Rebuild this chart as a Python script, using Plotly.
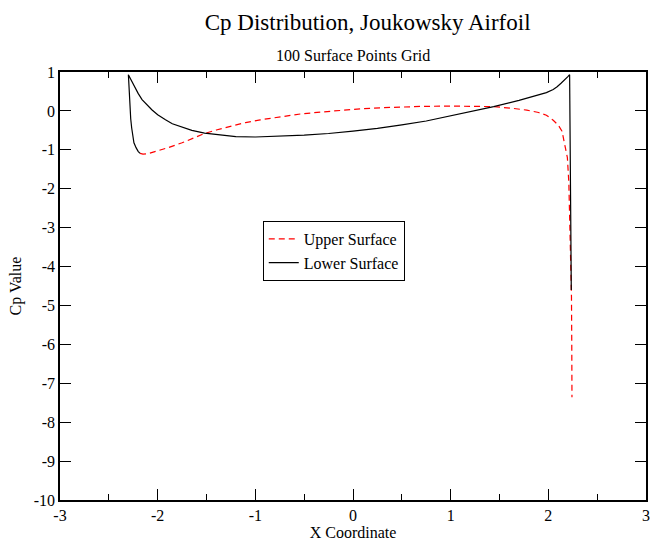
import plotly.graph_objects as go

# Upper surface (red dashed)
upper_x = [-2.18, -2.15, -2.10, -2.03, -1.90, -1.75, -1.63, -1.53, -1.40, -1.23, -1.10, -0.95,
           -0.75, -0.54, -0.33, -0.13, 0.08, 0.28, 0.48, 0.69, 0.99, 1.20, 1.44, 1.62, 1.78,
           1.90, 1.98, 2.05, 2.10, 2.14, 2.17, 2.195, 2.21, 2.228, 2.237, 2.240, 2.242]
upper_cp = [-1.09, -1.11, -1.10, -1.05, -0.95, -0.82, -0.70, -0.59, -0.49, -0.38, -0.30, -0.23,
            -0.15, -0.08, -0.03, 0.02, 0.055, 0.08, 0.10, 0.115, 0.125, 0.125, 0.11, 0.07, 0.02,
            -0.04, -0.11, -0.24, -0.36, -0.52, -0.85, -1.20, -1.85, -3.57, -4.78, -6.00, -7.36]

# Lower surface (black solid)
lower_x = [2.235, 2.218, 2.20, 2.17, 2.13, 2.09, 2.05, 1.98, 1.85, 1.70, 1.44, 1.20, 1.00, 0.75,
           0.50, 0.25, 0.00, -0.25, -0.50, -0.75, -1.00, -1.20, -1.36, -1.52, -1.65, -1.75,
           -1.85, -1.92, -2.00, -2.06, -2.12, -2.16, -2.20, -2.23, -2.26, -2.285, -2.300,
           -2.297, -2.293, -2.288, -2.283, -2.276, -2.266, -2.256, -2.243, -2.22, -2.20, -2.18]
lower_cp = [-4.60, 0.93, 0.88, 0.80, 0.71, 0.62, 0.55, 0.47, 0.37, 0.27, 0.11, -0.02, -0.14, -0.26,
            -0.36, -0.45, -0.52, -0.58, -0.62, -0.65, -0.67, -0.66, -0.62, -0.57, -0.50, -0.42,
            -0.33, -0.23, -0.10, 0.03, 0.17, 0.29, 0.45, 0.59, 0.76, 0.88, 0.93,
            0.80, 0.59, 0.30, 0.07, -0.20, -0.44, -0.65, -0.82, -0.95, -1.04, -1.09]

x_ticks = [-3, -2, -1, 0, 1, 2, 3]
y_ticks = [1, 0, -1, -2, -3, -4, -5, -6, -7, -8, -9, -10]

FONT = "Liberation Serif, Times New Roman, serif"

fig = go.Figure()
fig.add_trace(go.Scatter(x=upper_x, y=upper_cp, mode="lines", name="Upper Surface",
                         line=dict(color="#ff0000", width=1.2, dash="6px,4px")))
fig.add_trace(go.Scatter(x=lower_x, y=lower_cp, mode="lines", name="Lower Surface",
                         line=dict(color="#000000", width=1.2)))

axis_common = dict(showgrid=False, zeroline=False, showline=True, linecolor="black",
                   linewidth=1.5, mirror="allticks", ticks="inside", tickcolor="black",
                   tickwidth=1.2, ticklen=11, tickfont=dict(family=FONT, size=16, color="black"))

fig.update_xaxes(range=[-3, 3], tickvals=x_ticks, ticktext=[str(v) for v in x_ticks],
                 minor=dict(dtick=0.5, ticks="inside", ticklen=6, tickcolor="black", tickwidth=1.2),
                 title=dict(text="X Coordinate", font=dict(family=FONT, size=16, color="black"),
                            standoff=2),
                 automargin=False, **axis_common)
fig.update_yaxes(range=[-10, 1], tickvals=y_ticks, ticktext=[str(v) for v in y_ticks],
                 title=dict(text="Cp Value", font=dict(family=FONT, size=16, color="black"),
                            standoff=8),
                 automargin=False, **axis_common)

fig.update_layout(
    width=653, height=543,
    margin=dict(l=60, r=7, t=72, b=43),
    paper_bgcolor="white", plot_bgcolor="white",
    font=dict(family=FONT, color="black"),
    title=dict(text="Cp Distribution, Joukowsky Airfoil", x=0.563, xanchor="center",
               y=1 - 22 / 543, yanchor="middle", yref="container",
               font=dict(family=FONT, size=23, color="black")),
    showlegend=True,
    legend=dict(x=0.346, y=0.652, xanchor="left", yanchor="top",
                bgcolor="white", bordercolor="black", borderwidth=1,
                font=dict(family=FONT, size=16, color="black"),
                tracegroupgap=0),
    annotations=[dict(text="100 Surface Points Grid", xref="paper", yref="paper",
                      x=0.5, y=1 + (72 - 55) / 428, xanchor="center", yanchor="middle",
                      showarrow=False, font=dict(family=FONT, size=16, color="black"))],
)

fig.write_html("out.html")
